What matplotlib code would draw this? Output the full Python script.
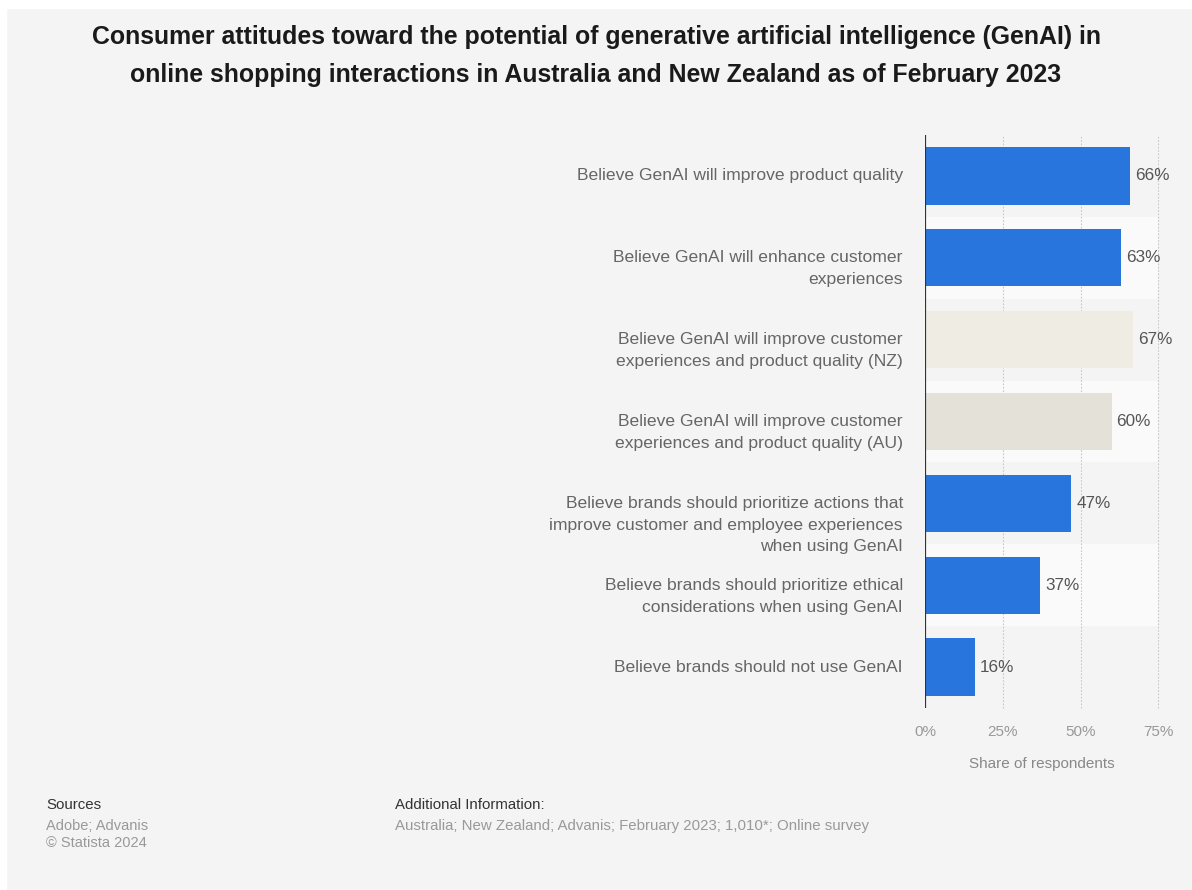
import matplotlib
matplotlib.use("Agg")
import matplotlib.pyplot as plt
from matplotlib.patches import Rectangle

categories = [
    "Believe GenAI will improve product quality",
    "Believe GenAI will enhance customer\nexperiences",
    "Believe GenAI will improve customer\nexperiences and product quality (NZ)",
    "Believe GenAI will improve customer\nexperiences and product quality (AU)",
    "Believe brands should prioritize actions that\nimprove customer and employee experiences\nwhen using GenAI",
    "Believe brands should prioritize ethical\nconsiderations when using GenAI",
    "Believe brands should not use GenAI",
]
values = [66, 63, 67, 60, 47, 37, 16]
bar_colors = ["#2876dd", "#2876dd", "#efede3", "#e4e2d8", "#2876dd", "#2876dd", "#2876dd"]
xticks = [0, 25, 50, 75]
xticklabels = ["0%", "25%", "50%", "75%"]

plt.rcParams['font.family'] = ['Liberation Sans', 'DejaVu Sans']

W, H = 1192, 890
fig = plt.figure(figsize=(W / 100, H / 100), dpi=100)
fig.patch.set_facecolor("#f4f4f4")
fig.patches.append(Rectangle((0, 0), 6 / W, 1, transform=fig.transFigure, color="white", zorder=-10))
fig.patches.append(Rectangle((0, 1 - 8 / H), 1, 8 / H, transform=fig.transFigure, color="white", zorder=-10))

def fx(px):
    return px / W

def fy(py):
    return 1 - py / H

ax_left, ax_right, ax_top, ax_bottom = 925, 1158.3, 135, 708
ax = fig.add_axes([fx(ax_left), fy(ax_bottom), fx(ax_right - ax_left), (ax_bottom - ax_top) / H])
ax.set_facecolor("none")

n = len(categories)
ys = list(range(n))
ax.set_ylim(n - 0.5, -0.5)
ax.set_xlim(0, 75)

for i in ys:
    if i % 2 == 1:
        ax.axhspan(i - 0.5, i + 0.5, xmin=0, xmax=1, color="#fafafa", zorder=0, lw=0)

for x in xticks[1:]:
    ax.axvline(x, color="#c8c8c8", lw=0.8, ls=(0, (1.5, 1.5)), zorder=1, clip_on=False)

ax.barh(ys, values, height=0.7, color=bar_colors, zorder=2)
for y, v in zip(ys, values):
    ax.text(v + 1.6, y, f"{v}%", va="center", ha="left", fontsize=12.3, color="#555555", zorder=3, clip_on=False)

ax.axvline(0, color="#333333", lw=1.6, zorder=4)
for s in ax.spines.values():
    s.set_visible(False)

# category labels: first line centred on the row, further lines below
ax.set_yticks(ys)
ax.set_yticklabels([])
ax.tick_params(axis="y", length=0)
line_step_pt = 21.8 * 72 / 100
pad_pt = 22 * 72 / 100
for y, label in zip(ys, categories):
    for j, line in enumerate(label.split("\n")):
        ax.annotate(line, xy=(0, y), xycoords=("axes fraction", "data"),
                    xytext=(-pad_pt, -j * line_step_pt), textcoords="offset points",
                    ha="right", va="center", fontsize=12.6, color="#666666", annotation_clip=False)

ax.set_xticks(xticks)
ax.set_xticklabels(xticklabels, fontsize=11, color="#999999")
ax.tick_params(axis="x", length=0, pad=12)
ax.set_xlabel("Share of respondents", fontsize=11, color="#888888", labelpad=13)

fig.text(0.5, fy(56), "Consumer attitudes toward the potential of generative artificial intelligence (GenAI) in\nonline shopping interactions in Australia and New Zealand as of February 2023",
         ha="center", va="center", fontsize=17.9, fontweight="bold", color="#1a1a1a", linespacing=1.69)

foot = ['Liberation Sans', 'DejaVu Sans']
fig.text(fx(46), fy(805), "Sources", ha="left", va="center", fontsize=10.8, color="#333333", family=foot)
fig.text(fx(46), fy(826), "Adobe; Advanis", ha="left", va="center", fontsize=10.5, color="#999999", family=foot)
fig.text(fx(46), fy(843), "© Statista 2024", ha="left", va="center", fontsize=10.5, color="#999999", family=foot)
fig.text(fx(395), fy(805), "Additional Information:", ha="left", va="center", fontsize=10.8, color="#333333", family=foot)
fig.text(fx(395), fy(826), "Australia; New Zealand; Advanis; February 2023; 1,010*; Online survey", ha="left", va="center", fontsize=10.8, color="#999999", family=foot)

fig.savefig("out.png", dpi=100, facecolor=fig.get_facecolor())
